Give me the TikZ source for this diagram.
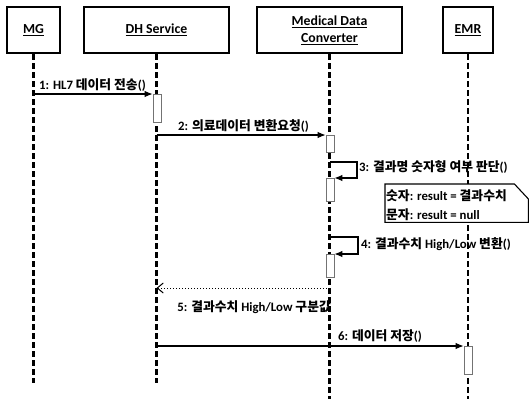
\documentclass[tikz,border=0pt]{standalone}
\usepackage{fontspec}
\setmainfont{Carlito}
\newfontfamily\krfont{Noto Sans CJK KR}
\newcommand\ko[1]{{\krfont #1}}
\usetikzlibrary{arrows.meta}
\begin{document}
\begin{tikzpicture}[x=1pt,y=-1pt,
 head/.style={draw,line width=2.2pt,inner sep=0pt,font=\fontsize{13.8}{16}\selectfont\bfseries,align=center},
 life/.style={line width=2.2pt,dash pattern=on 5.5pt off 3.5pt},
 act/.style={draw=black!55,fill=white,line width=0.7pt,minimum width=8pt,inner sep=0pt},
 msg/.style={line width=1.2pt,-{Latex[length=8pt,width=6.5pt]}},
 ret/.style={line width=1pt,dotted,-{Straight Barb[length=6pt,width=10pt]}},
 lbl/.style={font=\fontsize{12.8}{14}\selectfont\bfseries,inner sep=0pt},
 notebox/.style={fill=white,line width=1.1pt}
]
\useasboundingbox (0,0) rectangle (529,399);
% headers
\node[head,minimum width=53pt,minimum height=46pt] (mg) at (33.5,30) {\underline{MG}};
\node[head,minimum width=145pt,minimum height=46pt] (dh) at (156.5,30) {\underline{DH Service}};
\node[head,minimum width=145pt,minimum height=46pt] (mdc) at (329.5,30) {\underline{Medical Data}\\[1pt]\underline{Converter}};
\node[head,minimum width=50pt,minimum height=46pt] (emr) at (468,30) {\underline{EMR}};
% lifeline ends
\coordinate (mgend) at (33.5,383);
\coordinate (dhend) at (156.5,383);
\coordinate (mdcend) at (329.5,399);
\coordinate (emrend) at (468,399);
\draw[life] (mg.south) -- (mgend);
\draw[life] (dh.south) -- (dhend);
\draw[life] (mdc.south) -- (mdcend);
\draw[life] (emr.south) -- (emrend);
% activations
\node[act,minimum height=28pt,anchor=north] (a1) at (157,94) {};
\node[act,minimum height=17pt,anchor=north] (a2) at (330,135) {};
\node[act,minimum height=23pt,anchor=north] (a3) at (330,178) {};
\node[act,minimum height=23pt,anchor=north] (a4) at (330,254) {};
\node[act,minimum height=28pt,anchor=north] (a5) at (468,346) {};
% message 1
\draw[msg] (mg.south |- a1.north west) -- (a1.north west);
\node[lbl,anchor=base west] (l1) at (39,89) {1: HL7 \ko{데이터 전송}()};
% message 2
\draw[msg] (dh.south |- a2.north west) -- (a2.north west);
\node[lbl,anchor=base west] (l2) at (178,130) {2: \ko{의료데이터 변환요청}()};
% self message 3
\coordinate (s3) at (330,162);
\draw[msg] (s3) -- ++(27,0) |- (a3.north east);
\node[lbl,anchor=base west] (l3) at (359,171) {3: \ko{결과명 숫자형 여부 판단}()};
% note
\node[lbl,anchor=north west,minimum width=143pt,minimum height=38pt,inner sep=0pt] (note) at (385,184) {};
\draw[notebox] (note.north west) -- ([xshift=-14pt]note.north east) -- ([yshift=-15pt]note.north east) -- (note.south east) -- (note.south west) -- cycle;
\node[lbl,anchor=base west] (n1) at (386,200) {\ko{숫자}: result = \ko{결과수치}};
\node[lbl,anchor=base west] (n2) at (386,219) {\ko{문자}: result = null};
% self message 4
\coordinate (s4) at (330,237);
\draw[msg] (s4) -- ++(28,0) |- (a4.north east);
\node[lbl,anchor=base west] (l4) at (361,248) {4: \ko{결과수치} High/Low \ko{변환}()};
% return 5
\coordinate (r5a) at (329.5,288);
\coordinate (r5b) at (156.5,288);
\draw[ret] (r5a) -- (r5b);
\node[lbl,anchor=base east] (l5) at (331,311) {5: \ko{결과수치} High/Low \ko{구분값}};
% message 6
\draw[msg] (dh.south |- a5.north west) -- (a5.north west);
\node[lbl,anchor=base west] (l6) at (338,340) {6: \ko{데이터 저장}()};
\end{tikzpicture}
\end{document}
